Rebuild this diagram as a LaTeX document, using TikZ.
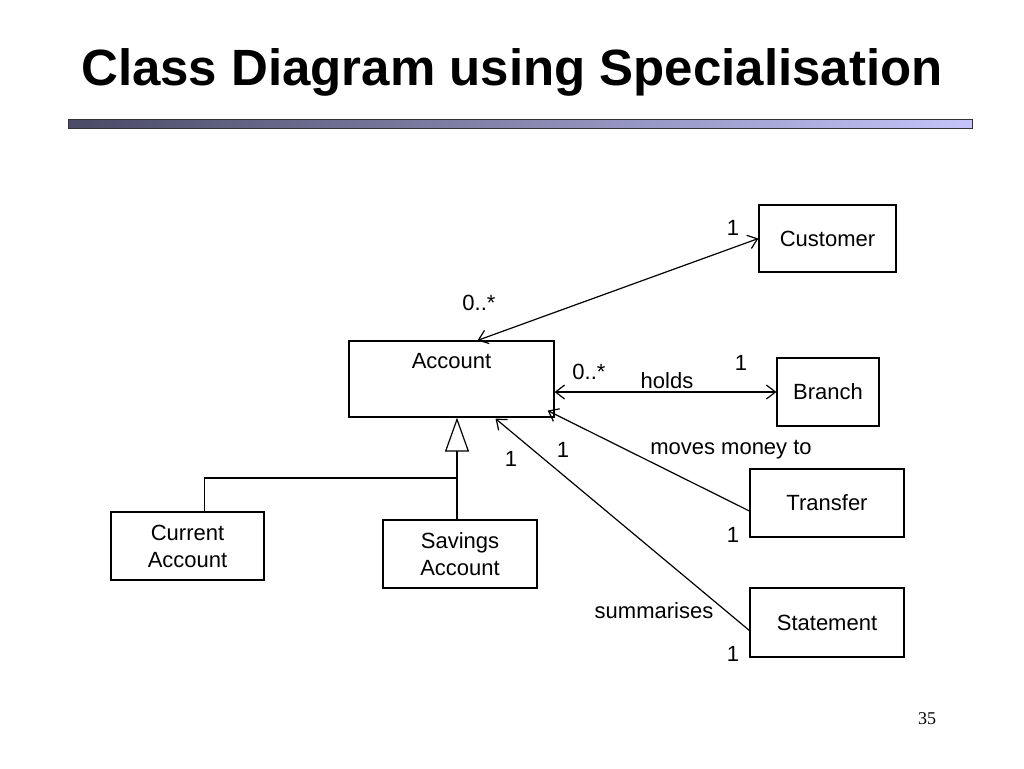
\documentclass[tikz,border=0pt]{standalone}
\usepackage{fontspec}
\setmainfont{Liberation Sans}
\newfontfamily\pagefont{Liberation Serif}
\usetikzlibrary{arrows.meta}
\definecolor{barleft}{HTML}{4A4A66}
\definecolor{barright}{HTML}{C4C4FA}
\begin{document}
\begin{tikzpicture}[x=1pt,y=-1pt,line width=1.2pt,
    classbox/.style={draw,rectangle,align=center,inner sep=0pt,
        font=\fontsize{22}{27}\selectfont},
    mult/.style={font=\fontsize{22}{27}\selectfont,inner sep=0pt},
    assoc/.style={{Straight Barb[length=9pt,width=14pt]}-{Straight Barb[length=9pt,width=14pt]}},
    navig/.style={-{Straight Barb[length=9pt,width=14pt]}},
    gen/.style={-{Triangle[open,length=34pt,width=24pt,line width=1.2pt]}}]
        \useasboundingbox (0,0) rectangle (1024,768);
        % heading
        \node[font=\fontsize{51}{60}\selectfont\bfseries,anchor=base] (title) at (512,85)
            {Class Diagram using Specialisation};
        \shade[left color=barleft,right color=barright,draw=black!80,line width=0.8pt]
            (68,119) rectangle (972,128);
        % classes
        \node[classbox,minimum width=205,minimum height=76,
            label={[mult,anchor=north,yshift=-12pt]north:Account}] (account) at (451.5,379) {};
        \node[classbox,minimum width=137,minimum height=67] (customer) at (827.5,238.5) {Customer};
        \node[classbox,minimum width=102,minimum height=68] (branch) at (828,392) {Branch};
        \node[classbox,minimum width=154,minimum height=68] (transfer) at (827,503) {Transfer};
        \node[classbox,minimum width=154,minimum height=69] (statement) at (827,622.5) {Statement};
        \node[classbox,minimum width=153,minimum height=68] (current) at (187.5,546) {Current\\Account};
        \node[classbox,minimum width=154,minimum height=68] (savings) at (460,554) {Savings\\Account};
        % specialisation
        \coordinate (join) at (457,478);
        \draw (join |- savings.north) -- (join);
        \draw ([xshift=17pt]current.north) |- (join);
        \draw[gen] (join) -- (join |- account.south);
        % associations
        \draw[assoc] ([xshift=26pt]account.north) -- (customer.west);
        \draw[assoc] (branch.west -| account.east) -- (branch.west);
        \draw[navig] ([yshift=-8pt]transfer.west) -- ([shift={(-7,-7)}]account.south east);
        \draw[navig] ([yshift=-8pt]statement.west) -- ([shift={(44,1)}]account.south);
        % multiplicities and roles
        \node[mult] (m1) at (733,228) {1};
        \node[mult] (m2) at (479,303) {0..*};
        \node[mult] (m3) at (589,372) {0..*};
        \node[mult] (m4) at (741,363) {1};
        \node[mult] (holds) at (667,381) {holds};
        \node[mult] (m5) at (563,450) {1};
        \node[mult] (m6) at (511,459) {1};
        \node[mult] (moves) at (731,450) {moves money to};
        \node[mult] (m7) at (733,535) {1};
        \node[mult] (summ) at (654,611) {summarises};
        \node[mult] (m8) at (733,654) {1};
        \node[font=\pagefont\fontsize{18}{20}\selectfont,inner sep=0pt] (page) at (927,719) {35};
    \end{tikzpicture}
\end{document}
